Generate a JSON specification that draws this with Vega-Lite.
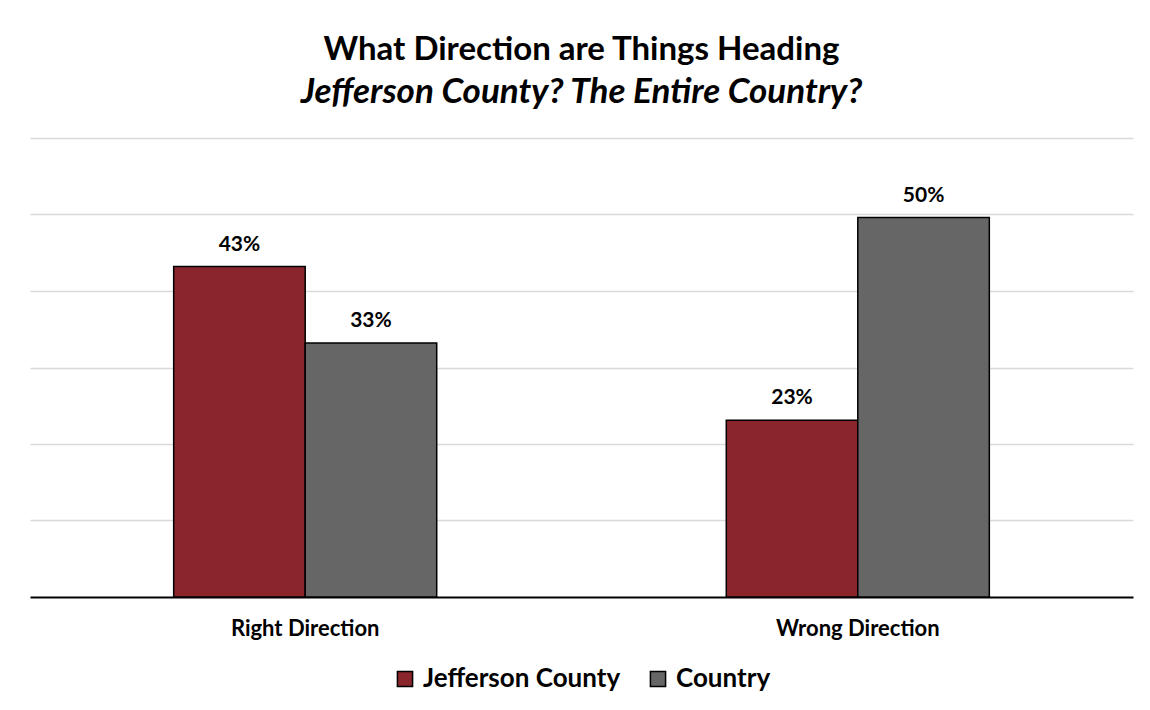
{
  "$schema": "https://vega.github.io/schema/vega-lite/v6.json",
  "width": 1103,
  "height": 459,
  "autosize": "none",
  "padding": {"left": 30, "top": 138, "right": 17, "bottom": 113},
  "background": "white",
  "title": {
    "text": "What Direction are Things Heading",
    "subtitle": "Jefferson County? The Entire Country?",
    "anchor": "middle",
    "font": "Lato",
    "fontSize": 33,
    "fontWeight": "bold",
    "color": "#000000",
    "subtitleFont": "Lato",
    "subtitleFontSize": 35,
    "subtitleFontWeight": "bold",
    "subtitleFontStyle": "italic",
    "subtitleColor": "#000000",
    "subtitlePadding": 8,
    "offset": 28
  },
  "data": {
    "values": [
      {"direction": "Right Direction", "series": "Jefferson County", "pct": 0.432},
      {"direction": "Right Direction", "series": "Country", "pct": 0.332},
      {"direction": "Wrong Direction", "series": "Jefferson County", "pct": 0.231},
      {"direction": "Wrong Direction", "series": "Country", "pct": 0.496}
    ]
  },
  "encoding": {
    "x": {
      "field": "direction",
      "type": "nominal",
      "sort": ["Right Direction", "Wrong Direction"],
      "scale": {"paddingInner": 0.524, "paddingOuter": 0.26},
      "axis": {
        "title": null,
        "labelAngle": 0,
        "ticks": false,
        "labelPadding": 21,
        "labelFont": "Lato",
        "labelFontSize": 22,
        "labelFontWeight": "bold",
        "labelColor": "#000000",
        "domainColor": "#000000",
        "domainWidth": 2
      }
    },
    "xOffset": {
      "field": "series",
      "type": "nominal",
      "sort": ["Jefferson County", "Country"],
      "scale": {"paddingInner": 0, "paddingOuter": 0}
    },
    "y": {
      "field": "pct",
      "type": "quantitative",
      "scale": {"domain": [0, 0.6], "nice": false},
      "axis": {
        "title": null,
        "labels": false,
        "ticks": false,
        "domain": false,
        "values": [0.1, 0.2, 0.3, 0.4, 0.5, 0.6],
        "grid": true,
        "gridColor": "#D9D9D9",
        "gridWidth": 1.5
      }
    }
  },
  "layer": [
    {
      "mark": {"type": "bar", "stroke": "#000000", "strokeWidth": 1.5},
      "encoding": {
        "color": {
          "field": "series",
          "type": "nominal",
          "sort": ["Jefferson County", "Country"],
          "scale": {"domain": ["Jefferson County", "Country"], "range": ["#89252B", "#666666"]},
          "legend": {
            "title": null,
            "orient": "bottom",
            "direction": "horizontal",
            "symbolType": "square",
            "symbolSize": 230,
            "symbolStrokeColor": "#000000",
            "symbolStrokeWidth": 1.5,
            "symbolOpacity": 1,
            "labelFont": "Lato",
            "labelFontSize": 26,
            "labelFontWeight": "bold",
            "labelColor": "#000000",
            "labelLimit": 400,
            "columnPadding": 24,
            "labelOffset": 5,
            "offset": 27
          }
        }
      }
    },
    {
      "mark": {"type": "text", "baseline": "alphabetic", "dy": -16, "font": "Lato", "fontSize": 21, "fontWeight": "bold", "color": "#000000"},
      "encoding": {
        "text": {"field": "pct", "type": "quantitative", "format": ".0%"}
      }
    }
  ],
  "config": {
    "view": {"stroke": null},
    "legend": {"layout": {"bottom": {"anchor": "middle"}}}
  }
}
